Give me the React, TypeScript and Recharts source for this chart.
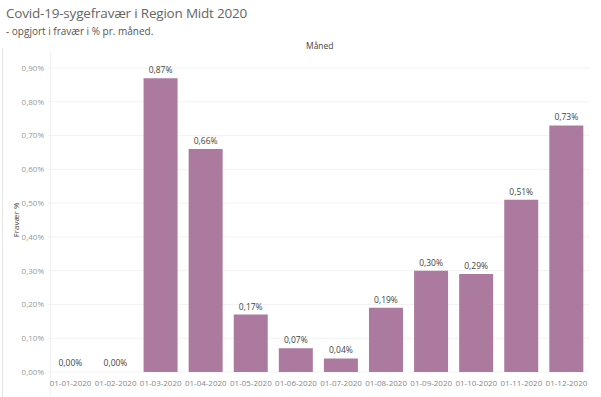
import { BarChart, Bar, XAxis, YAxis, CartesianGrid, LabelList, Cell } from 'recharts';

const months = [
  '01-01-2020', '01-02-2020', '01-03-2020', '01-04-2020', '01-05-2020', '01-06-2020',
  '01-07-2020', '01-08-2020', '01-09-2020', '01-10-2020', '01-11-2020', '01-12-2020',
];
const absence = [0, 0, 0.87, 0.66, 0.17, 0.07, 0.04, 0.19, 0.3, 0.29, 0.51, 0.73];
const yTicks = [0, 0.1, 0.2, 0.3, 0.4, 0.5, 0.6, 0.7, 0.8, 0.9];

const chartData = months.map((m, i) => ({ month: m, value: absence[i] }));

const pct = (v: number) => v.toFixed(2).replace('.', ',') + '%';
const font = '"Open Sans", "Noto Sans", sans-serif';

export default function App() {
  return (
    <div style={{ position: 'absolute', left: 0, top: 0, width: 601, height: 397, background: '#fff', fontFamily: font }}>
      <div style={{ position: 'absolute', left: 6, top: 4, fontSize: 13.5, color: '#666', letterSpacing: -0.2 }}>
        Covid-19-sygefravær i Region Midt 2020
      </div>
      <div style={{ position: 'absolute', left: 6, top: 24, fontSize: 10, color: '#555' }}>
        - opgjort i fravær i % pr. måned.
      </div>
      <div style={{ position: 'absolute', left: 306, top: 40, fontSize: 8.5, color: '#444' }}>Måned</div>
      <div style={{ position: 'absolute', left: 2, top: 48, width: 1, height: 349, background: '#e4e4e4' }} />
      <div style={{ position: 'absolute', left: 50, top: 52, width: 1, height: 345, background: '#f0f0f0' }} />
      <div
        style={{
          position: 'absolute', left: 15, top: 220, fontSize: 8, color: '#444',
          transform: 'translate(-50%, -50%) rotate(-90deg)', whiteSpace: 'nowrap',
        }}
      >
        Fravær %
      </div>
      <BarChart
        width={601}
        height={397}
        data={chartData}
        margin={{ top: 68, right: 12, bottom: 11, left: 8 }}
        barCategoryGap="12%"
        style={{ position: 'absolute', left: 0, top: 0 }}
      >
        <CartesianGrid vertical={false} stroke="#f2f2f2" />
        <XAxis
          dataKey="month"
          height={14}
          axisLine={false}
          tickLine={false}
          interval={0}
          tick={{ fontSize: 8, fill: '#888', fontFamily: font }}
          tickMargin={2}
        />
        <YAxis
          width={40}
          domain={[0, 0.9]}
          ticks={yTicks}
          tickFormatter={pct}
          axisLine={false}
          tickLine={false}
          tickSize={0}
          tickMargin={4}
          tick={{ fontSize: 8, fill: '#999', fontFamily: font }}
        />
        <Bar dataKey="value" fill="#ad7a9f" minPointSize={1} isAnimationActive={false}>
          {chartData.map((d) => (
            <Cell key={d.month} fillOpacity={d.value === 0 ? 0 : 1} />
          ))}
          <LabelList
            dataKey="value"
            position="top"
            formatter={(v: number) => pct(v)}
            style={{ fontSize: 8.5, fill: '#444', fontFamily: font }}
          />
        </Bar>
      </BarChart>
    </div>
  );
}
